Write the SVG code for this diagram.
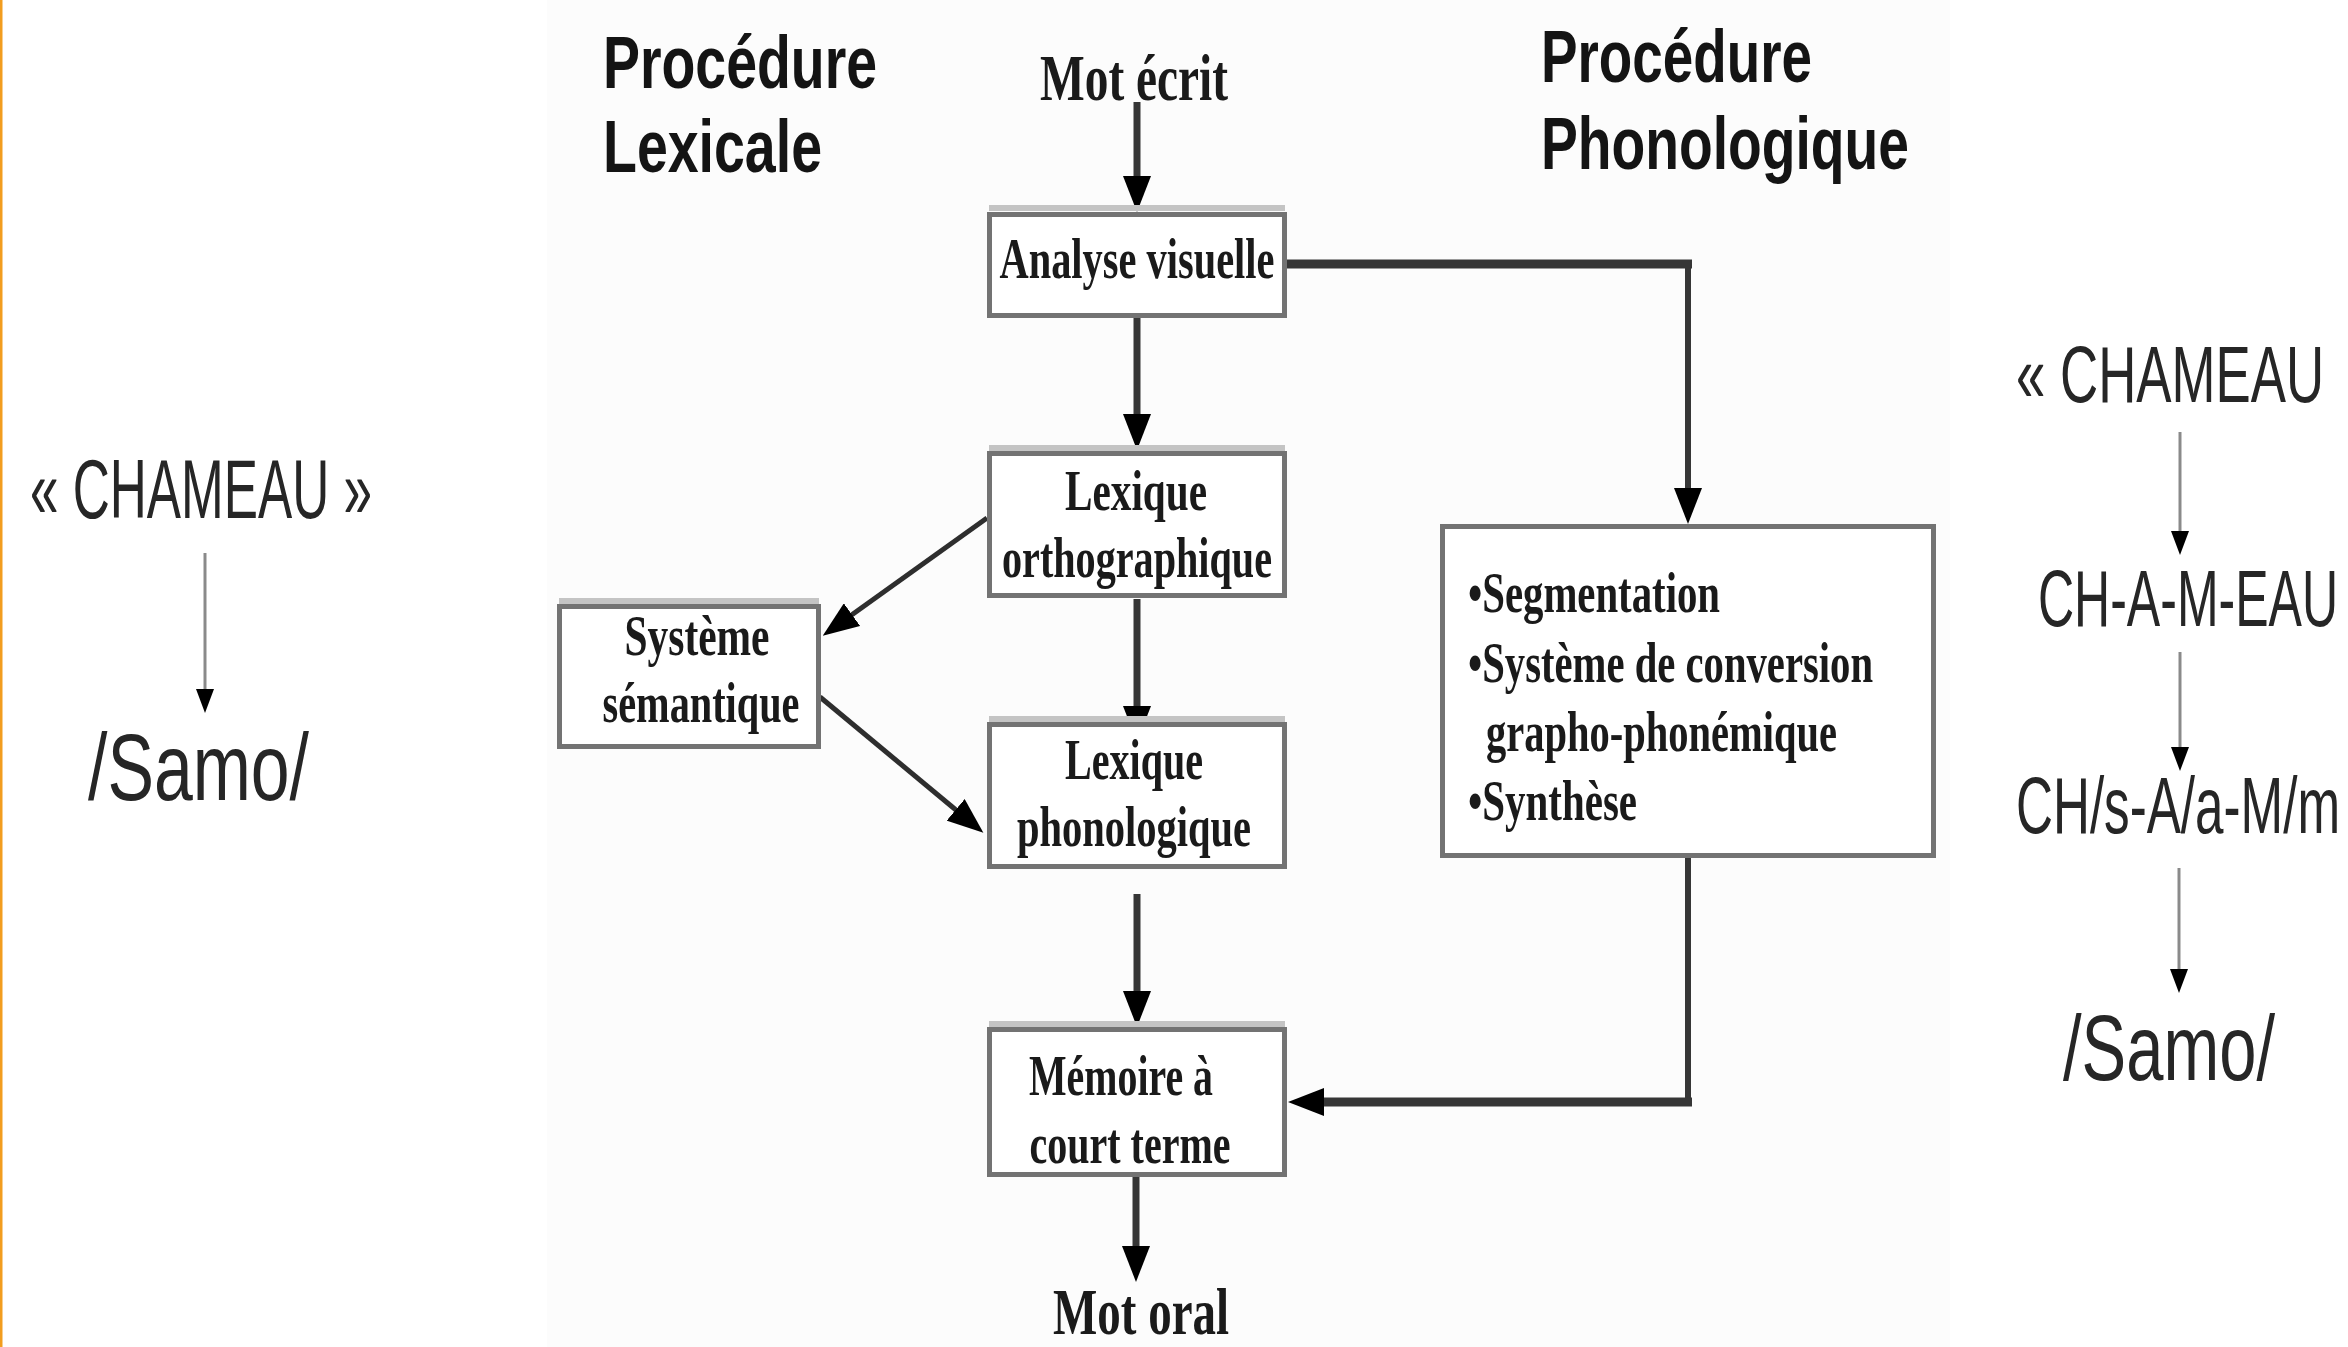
<svg xmlns="http://www.w3.org/2000/svg" width="2348" height="1347" viewBox="0 0 2348 1347">
<defs>
<style>
.bg{fill:#ffffff}
.panel{fill:#fcfcfc}
.box{fill:#ffffff;stroke:#737373;stroke-width:5}
.hl{fill:none;stroke:#c4c4c4;stroke-width:6}
.ser{font-family:"Liberation Serif","Times New Roman",serif;font-weight:bold;fill:#1a1a1a}
.bx{font-size:58px}
.big{font-size:66px}
.head{font-family:"Liberation Sans",Arial,sans-serif;font-weight:bold;font-size:74px;fill:#141414}
.san{font-family:"Liberation Sans",Arial,sans-serif;fill:#262626}
.c7{fill:none;stroke:#363636;stroke-width:7}
.c9{fill:none;stroke:#363636;stroke-width:9}
.c6{fill:none;stroke:#363636;stroke-width:6}
.c5{fill:none;stroke:#2e2e2e;stroke-width:5}
.thin{fill:none;stroke:#8a8a8a;stroke-width:3}
</style>
<marker id="ah" markerUnits="userSpaceOnUse" viewBox="0 0 36 28" markerWidth="36" markerHeight="28" refX="16" refY="14" orient="auto">
<path d="M0,0 L36,14 L0,28 z" fill="#000"/>
</marker>
<marker id="ahs" markerUnits="userSpaceOnUse" viewBox="0 0 24 18" markerWidth="24" markerHeight="18" refX="12" refY="9" orient="auto">
<path d="M0,0 L24,9 L0,18 z" fill="#000"/>
</marker>
</defs>

<rect class="bg" x="0" y="0" width="2348" height="1347"/>
<rect class="panel" x="547" y="0" width="1403" height="1347"/>
<rect x="0" y="0" width="2.5" height="1347" fill="#f29d1f"/>

<g id="headings">
<text class="head" x="603" y="88" textLength="274" lengthAdjust="spacingAndGlyphs">Procédure</text>
<text class="head" x="603" y="172" textLength="219" lengthAdjust="spacingAndGlyphs">Lexicale</text>
<text class="head" x="1541" y="82" textLength="271" lengthAdjust="spacingAndGlyphs">Procédure</text>
<text class="head" x="1541" y="169" textLength="368" lengthAdjust="spacingAndGlyphs">Phonologique</text>
</g>

<g id="connectors">
<path class="c7" d="M1137,102 V192" marker-end="url(#ah)"/>
<path class="c7" d="M1137,318 V430" marker-end="url(#ah)"/>
<path class="c7" d="M1137,599 V722" marker-end="url(#ah)"/>
<path class="c7" d="M1137,894 V1007" marker-end="url(#ah)"/>
<path class="c7" d="M1136,1177 V1262" marker-end="url(#ah)"/>
<path class="c9" d="M1287,264 H1692"/>
<path class="c6" d="M1688,264 V504" marker-end="url(#ah)"/>
<path class="c6" d="M1688,858 V1102"/>
<path class="c9" d="M1692,1102 H1308" marker-end="url(#ah)"/>
<path class="c5" d="M987,518 L839,624" marker-end="url(#ah)"/>
<path class="c5" d="M820,697 L968,820" marker-end="url(#ah)"/>
<path class="thin" d="M205,553 V701" marker-end="url(#ahs)"/>
<path class="thin" d="M2180,432 V543" marker-end="url(#ahs)"/>
<path class="thin" d="M2180,652 V759" marker-end="url(#ahs)"/>
<path class="thin" d="M2179,868 V981" marker-end="url(#ahs)"/>
</g>

<g id="mot-ecrit">
<text class="ser big" x="1134" y="100" text-anchor="middle" textLength="188" lengthAdjust="spacingAndGlyphs">Mot écrit</text>
</g>

<g id="analyse-visuelle">
<path class="hl" d="M989,208 H1285"/>
<rect class="box" x="989.5" y="214.5" width="295" height="101"/>
<text class="ser bx" x="1137" y="278" text-anchor="middle" textLength="275" lengthAdjust="spacingAndGlyphs">Analyse visuelle</text>
</g>

<g id="lexique-orthographique">
<path class="hl" d="M989,448 H1285"/>
<rect class="box" x="989.5" y="453.5" width="295" height="142"/>
<text class="ser bx" x="1136" y="510" text-anchor="middle" textLength="142" lengthAdjust="spacingAndGlyphs">Lexique</text>
<text class="ser bx" x="1137" y="577" text-anchor="middle" textLength="270" lengthAdjust="spacingAndGlyphs">orthographique</text>
</g>

<g id="systeme-semantique">
<path class="hl" d="M559,601 H819"/>
<rect class="box" x="559.5" y="606.5" width="259" height="140"/>
<text class="ser bx" x="697" y="655" text-anchor="middle" textLength="145" lengthAdjust="spacingAndGlyphs">Système</text>
<text class="ser bx" x="701" y="722" text-anchor="middle" textLength="197" lengthAdjust="spacingAndGlyphs">sémantique</text>
</g>

<g id="lexique-phonologique">
<path class="hl" d="M989,719 H1285"/>
<rect class="box" x="989.5" y="724.5" width="295" height="142"/>
<text class="ser bx" x="1134" y="779" text-anchor="middle" textLength="138" lengthAdjust="spacingAndGlyphs">Lexique</text>
<text class="ser bx" x="1134" y="846" text-anchor="middle" textLength="234" lengthAdjust="spacingAndGlyphs">phonologique</text>
</g>

<g id="memoire-court-terme">
<path class="hl" d="M989,1024 H1285"/>
<rect class="box" x="989.5" y="1029.5" width="295" height="145"/>
<text class="ser bx" x="1121" y="1095" text-anchor="middle" textLength="184" lengthAdjust="spacingAndGlyphs">Mémoire à</text>
<text class="ser bx" x="1130" y="1163" text-anchor="middle" textLength="201" lengthAdjust="spacingAndGlyphs">court terme</text>
</g>

<g id="mot-oral">
<text class="ser big" x="1141" y="1334" text-anchor="middle" textLength="176" lengthAdjust="spacingAndGlyphs">Mot oral</text>
</g>

<g id="procedure-phonologique">
<rect class="box" x="1442.5" y="526.5" width="491" height="329"/>
<text class="ser bx" x="1468" y="612" textLength="252" lengthAdjust="spacingAndGlyphs">•Segmentation</text>
<text class="ser bx" x="1468" y="682" textLength="405" lengthAdjust="spacingAndGlyphs">•Système de conversion</text>
<text class="ser bx" x="1486" y="751" textLength="351" lengthAdjust="spacingAndGlyphs">grapho-phonémique</text>
<text class="ser bx" x="1468" y="820" textLength="169" lengthAdjust="spacingAndGlyphs">•Synthèse</text>
</g>

<g id="exemple-lexical">
<text class="san" x="30" y="518" font-size="84" textLength="342" lengthAdjust="spacingAndGlyphs">« CHAMEAU »</text>
<text class="san" x="88" y="800" font-size="94" textLength="221" lengthAdjust="spacingAndGlyphs">/Samo/</text>
</g>

<g id="exemple-phonologique">
<text class="san" transform="translate(2016,402) scale(0.66,1)" x="0" y="0" font-size="80" textLength="466.7" lengthAdjust="spacingAndGlyphs">« CHAMEAU</text>
<text class="san" transform="translate(2038,626) scale(0.625,1)" x="0" y="0" font-size="80" textLength="480" lengthAdjust="spacingAndGlyphs">CH-A-M-EAU</text>
<text class="san" transform="translate(2016,833) scale(0.64,1)" x="0" y="0" font-size="80" textLength="506.3" lengthAdjust="spacingAndGlyphs">CH/s-A/a-M/m</text>
<text class="san" transform="translate(2063,1080) scale(0.73,1)" x="0" y="0" font-size="92" textLength="290.4" lengthAdjust="spacingAndGlyphs">/Samo/</text>
</g>
</svg>
